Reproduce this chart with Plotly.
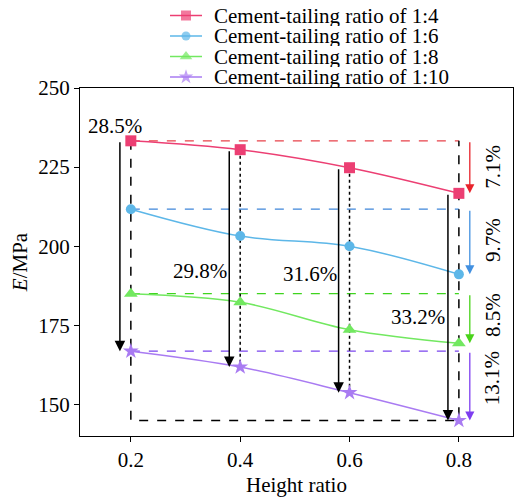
import plotly.graph_objects as go

# ---- data -------------------------------------------------------------
height_ratio = [0.2, 0.4, 0.6, 0.8]
e_1_4 = [233.3, 230.5, 224.8, 216.7]
e_1_6 = [211.7, 203.2, 200.0, 191.1]
e_1_8 = [185.0, 182.3, 173.6, 169.3]
e_1_10 = [166.8, 161.8, 153.7, 144.9]

series_names = [
    "Cement-tailing ratio of 1:4",
    "Cement-tailing ratio of 1:6",
    "Cement-tailing ratio of 1:8",
    "Cement-tailing ratio of 1:10",
]
# reduction between 1:4 and 1:10 at each height ratio
drop_labels = ["28.5%", "29.8%", "31.6%", "33.2%"]
# reduction from height ratio 0.2 to 0.8 for each mix
series_drop_labels = ["7.1%", "9.7%", "8.5%", "13.1%"]

x_ticks = [0.2, 0.4, 0.6, 0.8]
y_ticks = [150, 175, 200, 225, 250]

# ---- styling ----------------------------------------------------------
FONT = "Liberation Serif, Times New Roman, Times, serif"
FS = 21
line_colors = ["#EC3F73", "#5DB7E8", "#72E860", "#A97BF2"]
ref_colors = ["#E8424A", "#3F86DA", "#3FD41E", "#7B45EE"]
arrow_colors = ["#E8232B", "#4290E0", "#49D31A", "#7E3EF0"]
symbols = ["square", "circle", "triangle-up", "star"]
marker_sizes = [11, 10, 12, 12]

black_arrow_shift = -0.02      # black arrows sit just left of each x
side_arrow_x = 0.82            # coloured arrows on the right
side_label_x = 0.862
drop_label_pos = [(0.171, 237.9), (0.326, 192.2), (0.527, 191.2), (0.725, 177.6)]
series_label_y = [225.0, 201.9, 178.2, 158.2]

W, H = 518, 497
M_L, M_R, M_B = 80, 5, 61
PLOT_TOP = 88                  # px from top where the main axes begin
area_h = H - M_B
main_top = (area_h - PLOT_TOP) / area_h

series = [e_1_4, e_1_6, e_1_8, e_1_10]

fig = go.Figure()

# coloured dashed reference lines at the 0.2 value of each mix
for vals, c in zip(series, ref_colors):
    fig.add_trace(go.Scatter(
        x=[height_ratio[0], height_ratio[-1]], y=[vals[0], vals[0]],
        mode="lines", line=dict(color=c, width=1.3, dash="dash"),
        showlegend=False, hoverinfo="skip"))

# black dashed frame between 1:4 at 0.2 and 1:10 at 0.8
top, bottom = e_1_4[0], e_1_10[-1]
fig.add_trace(go.Scatter(
    x=[height_ratio[0], height_ratio[0], height_ratio[-1], height_ratio[-1]],
    y=[top, bottom, bottom, top],
    mode="lines", line=dict(color="black", width=1.5, dash="dash"),
    showlegend=False, hoverinfo="skip"))

# dotted verticals at intermediate height ratios
for i in (1, 2):
    fig.add_trace(go.Scatter(
        x=[height_ratio[i], height_ratio[i]], y=[e_1_4[i], e_1_10[i]],
        mode="lines", line=dict(color="black", width=1.5, dash="dot"),
        showlegend=False, hoverinfo="skip"))

# data curves
for vals, name, c, s, ms in zip(series, series_names, line_colors, symbols, marker_sizes):
    fig.add_trace(go.Scatter(
        x=height_ratio, y=vals, name=name, mode="lines+markers",
        line=dict(color=c, width=1.5, shape="spline", smoothing=1.0),
        marker=dict(symbol=s, size=ms, color=c, line=dict(width=0)),
        showlegend=False, cliponaxis=False))

annotations = []

# black arrows: drop from 1:4 to 1:10 at each height ratio
for i, h in enumerate(height_ratio):
    annotations.append(dict(
        x=h + black_arrow_shift, y=e_1_10[i], ax=h + black_arrow_shift, ay=e_1_4[i],
        xref="x", yref="y", axref="x", ayref="y", text="", showarrow=True,
        arrowhead=2, arrowsize=1.4, arrowwidth=1.5, arrowcolor="black", standoff=0))
    lx, ly = drop_label_pos[i]
    annotations.append(dict(
        x=lx, y=ly, xref="x", yref="y", text=drop_labels[i], showarrow=False,
        font=dict(family=FONT, size=FS, color="black")))

# coloured arrows: drop from 0.2 to 0.8 for each mix
for vals, c, lab, ly in zip(series, arrow_colors, series_drop_labels, series_label_y):
    annotations.append(dict(
        x=side_arrow_x, y=vals[-1], ax=side_arrow_x, ay=vals[0],
        xref="x", yref="y", axref="x", ayref="y", text="", showarrow=True,
        arrowhead=2, arrowsize=1.4, arrowwidth=1.3, arrowcolor=c, standoff=0))
    annotations.append(dict(
        x=side_label_x, y=ly, xref="x", yref="y", text=lab, showarrow=False,
        textangle=-90, font=dict(family=FONT, size=FS, color="black")))

# legend drawn on a hidden helper axis above the plot (units = px)
leg_rows = [15.5, 36.0, 56.5, 77.0]
leg_x0, leg_xm, leg_x1, leg_text_x = 170, 186, 202, 212
for name, c, s, ms, r in zip(series_names, line_colors, symbols, marker_sizes, leg_rows):
    fig.add_trace(go.Scatter(
        x=[leg_x0, leg_xm, leg_x1], y=[r, r, r], xaxis="x2", yaxis="y2",
        mode="lines+markers", line=dict(color=c, width=1.5),
        marker=dict(symbol=s, size=[0, ms - 1, 0], color=c, line=dict(width=0)),
        showlegend=False, hoverinfo="skip", cliponaxis=False))
    annotations.append(dict(
        x=leg_text_x, y=r, xref="x2", yref="y2", text=name, showarrow=False,
        xanchor="left", yanchor="middle", height=20,
        font=dict(family=FONT, size=FS, color="black")))

axis_common = dict(
    showgrid=False, zeroline=False, showline=True, linecolor="black",
    linewidth=1.3, mirror=True, ticks="outside", ticklen=5, tickwidth=1.2,
    tickcolor="black", automargin=False,
    tickfont=dict(family=FONT, size=FS, color="black"))

fig.update_layout(
    width=W, height=H,
    margin=dict(l=M_L, r=M_R, t=0, b=M_B, pad=0, autoexpand=False),
    paper_bgcolor="white", plot_bgcolor="white",
    showlegend=False,
    font=dict(family=FONT, size=FS, color="black"),
    xaxis=dict(axis_common, range=[0.107, 0.899], tickvals=x_ticks,
               ticktext=[f"{v:.1f}" for v in x_ticks], domain=[0, 1],
               title=dict(text="Height ratio", standoff=6,
                          font=dict(family=FONT, size=FS, color="black"))),
    yaxis=dict(axis_common, range=[140, 250], tickvals=y_ticks,
               domain=[0, main_top],
               title=dict(text="<i>E</i>/MPa", standoff=4,
                          font=dict(family=FONT, size=FS, color="black"))),
    xaxis2=dict(domain=[0, 1], range=[M_L, W - M_R], anchor="y2", visible=False),
    yaxis2=dict(domain=[main_top, 1], range=[PLOT_TOP, 0], anchor="x2", visible=False),
    annotations=annotations,
)

fig.write_html("out.html")
